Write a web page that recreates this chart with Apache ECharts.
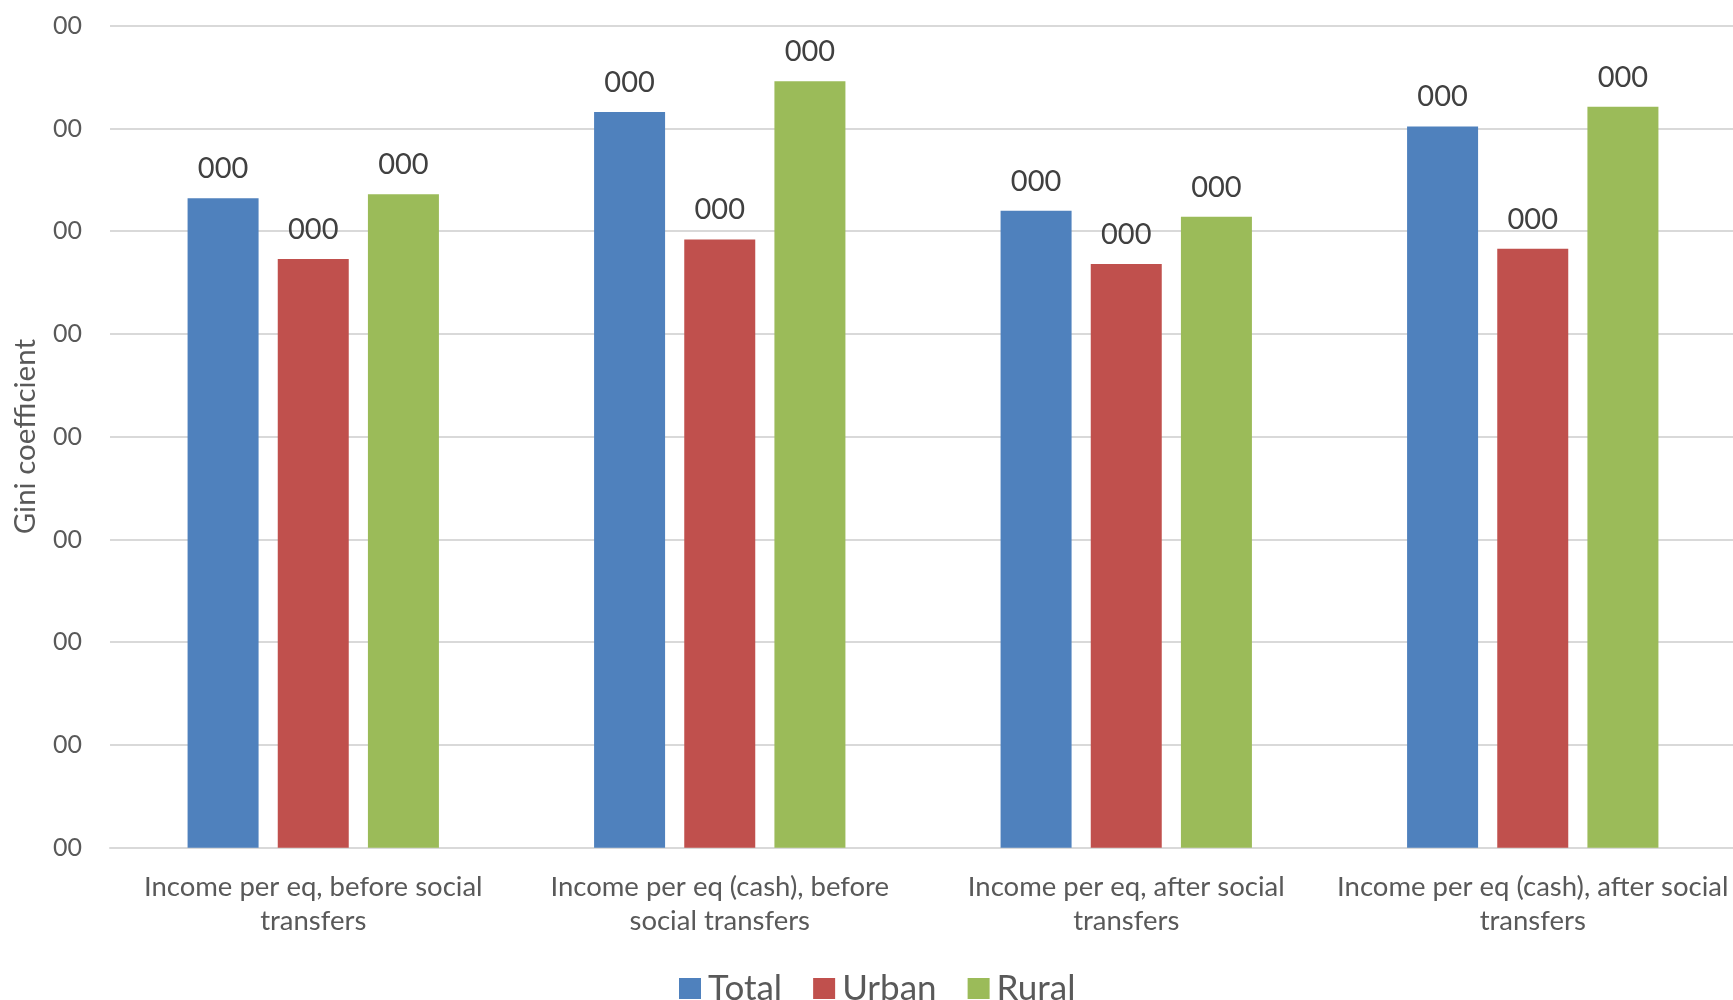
<!DOCTYPE html>
<html><head><meta charset="utf-8">
<script src="https://cdn.jsdelivr.net/npm/echarts@6/dist/echarts.min.js"></script>
<style>html,body{margin:0;padding:0;background:#fff}#c{width:1733px;height:1000px}</style>
</head><body><div id="c"></div>
<script>
const categories = [
  "Income per eq, before social\ntransfers",
  "Income per eq (cash), before\nsocial transfers",
  "Income per eq, after social\ntransfers",
  "Income per eq (cash), after social\ntransfers"
];
const seriesNames = ["Total", "Urban", "Rural"];
const totalValues = [0.632, 0.716, 0.620, 0.702];
const urbanValues = [0.573, 0.592, 0.568, 0.583];
const ruralValues = [0.636, 0.746, 0.614, 0.721];
const yTickLabel = "00";
const valueLabel = "000";
const yAxisTitle = "Gini coefficient";

const colors = ["#4F81BD", "#C0504D", "#9BBB59"];
const FONT = "Lato";
const dataSets = [totalValues, urbanValues, ruralValues];

const chart = echarts.init(document.getElementById('c'), null, {renderer: 'canvas'});
chart.setOption({
  animation: false,
  backgroundColor: '#ffffff',
  textStyle: {fontFamily: FONT},
  grid: {left: 110, right: -3, top: 25.7, bottom: 152.3, containLabel: false, outerBoundsMode: 'none'},
  legend: {
    top: 966, left: 674,
    itemWidth: 22, itemHeight: 21, itemGap: 31,
    icon: 'rect',
    textStyle: {fontFamily: FONT, fontSize: 35, color: '#595959', padding: [0, 0, 0, 2]},
    data: seriesNames
  },
  xAxis: {
    type: 'category', data: categories,
    axisLine: {show: true, lineStyle: {color: '#D9D9D9', width: 2}},
    axisTick: {show: false},
    axisLabel: {fontFamily: FONT, fontSize: 27.5, color: '#595959', margin: 22, lineHeight: 34, interval: 0}
  },
  yAxis: {
    type: 'value', min: 0, max: 0.8, interval: 0.1,
    name: yAxisTitle, nameLocation: 'middle', nameGap: 70, nameRotate: 90,
    nameTextStyle: {fontFamily: FONT, fontSize: 29.5, color: '#595959'},
    axisLine: {show: false}, axisTick: {show: false},
    splitLine: {lineStyle: {color: '#D9D9D9', width: 2}},
    axisLabel: {fontFamily: FONT, fontSize: 25, color: '#595959', margin: 28, formatter: () => yTickLabel}
  },
  series: seriesNames.map((n, i) => ({
    name: n, type: 'bar', data: dataSets[i],
    barWidth: 71, barGap: '27%',
    itemStyle: {color: colors[i]},
    label: {show: true, position: 'top', distance: 15, fontFamily: FONT, fontSize: 29, color: '#404040', formatter: () => valueLabel}
  }))
});
</script></body></html>
